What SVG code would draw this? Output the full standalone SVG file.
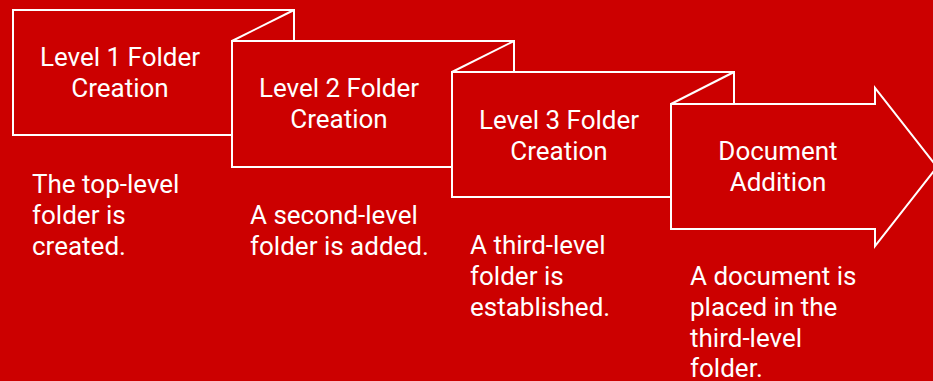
<svg xmlns="http://www.w3.org/2000/svg" width="933" height="381" viewBox="0 0 933 381">
  <style>
    .shape { fill: #CC0000; stroke: #FFFFFF; stroke-width: 2; stroke-linejoin: miter; }
    .fold { stroke: #FFFFFF; stroke-width: 2; fill: none; }
    .title { font-family: Roboto, "Liberation Sans", sans-serif; font-size: 26px; fill: #FFFFFF; text-anchor: middle; }
    .desc { font-family: Roboto, "Liberation Sans", sans-serif; font-size: 26px; fill: #FFFFFF; }
  </style>
  <rect x="0" y="0" width="933" height="381" fill="#CC0000"/>

  <g id="step1">
    <rect class="shape" x="13" y="10" width="281" height="125"/>
    <text class="title" x="120" y="66">Level 1 Folder</text>
    <text class="title" x="120" y="97">Creation</text>
  </g>

  <g id="step2">
    <rect class="shape" x="232" y="41" width="282" height="126"/>
    <line class="fold" x1="232" y1="41" x2="294" y2="10"/>
    <text class="title" x="339" y="97">Level 2 Folder</text>
    <text class="title" x="339" y="128">Creation</text>
  </g>

  <g id="step3">
    <rect class="shape" x="452" y="72" width="282" height="125"/>
    <line class="fold" x1="452" y1="72" x2="514" y2="41"/>
    <text class="title" x="559" y="128.5">Level 3 Folder</text>
    <text class="title" x="559" y="159.5">Creation</text>
  </g>

  <g id="step4">
    <polygon class="shape" points="671,104 875,104 875,88 937,167 875,246 875,229 671,229"/>
    <line class="fold" x1="671" y1="104" x2="734" y2="72"/>
    <text class="title" x="778" y="160">Document</text>
    <text class="title" x="778" y="191">Addition</text>
  </g>

  <g id="desc1">
    <text class="desc" x="32" y="193">The top-level</text>
    <text class="desc" x="32" y="224">folder is</text>
    <text class="desc" x="32" y="255">created.</text>
  </g>

  <g id="desc2">
    <text class="desc" x="250" y="223.5">A second-level</text>
    <text class="desc" x="250" y="254.5">folder is added.</text>
  </g>

  <g id="desc3">
    <text class="desc" x="470" y="253.5">A third-level</text>
    <text class="desc" x="470" y="284.5">folder is</text>
    <text class="desc" x="470" y="315.5">established.</text>
  </g>

  <g id="desc4">
    <text class="desc" x="690" y="284.5">A document is</text>
    <text class="desc" x="690" y="315.5">placed in the</text>
    <text class="desc" x="690" y="346.5">third-level</text>
    <text class="desc" x="690" y="377">folder.</text>
  </g>

  <g id="connectors"/>
</svg>
